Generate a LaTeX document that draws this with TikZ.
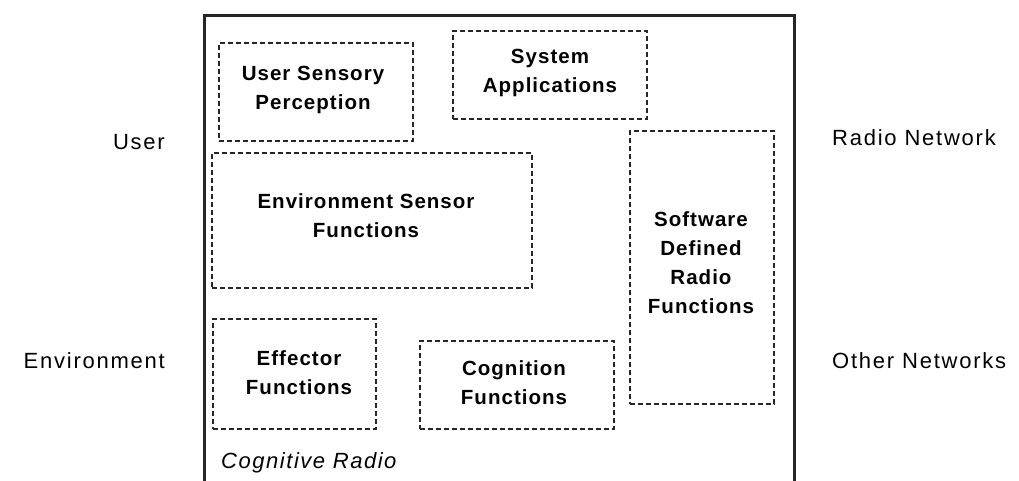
\documentclass[tikz,border=0pt]{standalone}
\usepackage{fontspec}
\setmainfont{Liberation Sans}
\begin{document}
\begin{tikzpicture}[x=1pt,y=-1pt,
  frame/.style={draw=black!85, line width=3pt, rectangle, inner sep=0pt},
  box/.style={draw=black!85, line width=1.1pt, dash pattern=on 5pt off 3pt, rectangle, inner sep=0pt},
  btext/.style={font=\fontsize{20.5}{29}\selectfont\bfseries\addfontfeature{LetterSpace=5}, align=center, inner sep=0pt},
  otext/.style={font=\fontsize{22}{25}\selectfont\addfontfeature{LetterSpace=8}, inner sep=0pt},
  itext/.style={font=\fontsize{22}{25}\selectfont\itshape\addfontfeature{LetterSpace=7}, inner sep=0pt},
]
\useasboundingbox (0,0) rectangle (1019,480);
% outer frame (open at the bottom, cut by the page edge)
\node[frame, minimum width=589.5pt, minimum height=490pt] (cr) at (499.25,260) {};
% dashed function boxes
\node[box, minimum width=194pt, minimum height=98pt] (usp) at (316,92) {};
\node[box, minimum width=194pt, minimum height=88pt] (sys) at (550,75) {};
\node[box, minimum width=320pt, minimum height=135pt] (envs) at (372,220.5) {};
\node[box, minimum width=144pt, minimum height=273pt] (sdr) at (702,267.5) {};
\node[box, minimum width=163pt, minimum height=110pt] (eff) at (294.5,374) {};
\node[box, minimum width=194pt, minimum height=88pt] (cog) at (517,385) {};
% box texts
\node[btext] (usp-t) at (313,90) {User Sensory\\Perception};
\node[btext] (sys-t) at (550,73) {System\\Applications};
\node[btext] (envs-t) at (366,216) {Environment Sensor\\Functions};
\node[btext] (sdr-t) at (701,263) {Software\\Defined\\Radio\\Functions};
\node[btext] (eff-t) at (299,373) {Effector\\Functions};
\node[btext] (cog-t) at (514,383) {Cognition\\Functions};
\node[itext, anchor=west] (cr-t) at (221,463) {Cognitive Radio};
% outside labels
\node[otext, anchor=east] (user) at (165,142) {User};
\node[otext, anchor=west] (radio) at (832,138) {Radio Network};
\node[otext, anchor=east] (env) at (165,361) {Environment};
\node[otext, anchor=west] (other) at (832,361) {Other Networks};
\end{tikzpicture}
\end{document}
